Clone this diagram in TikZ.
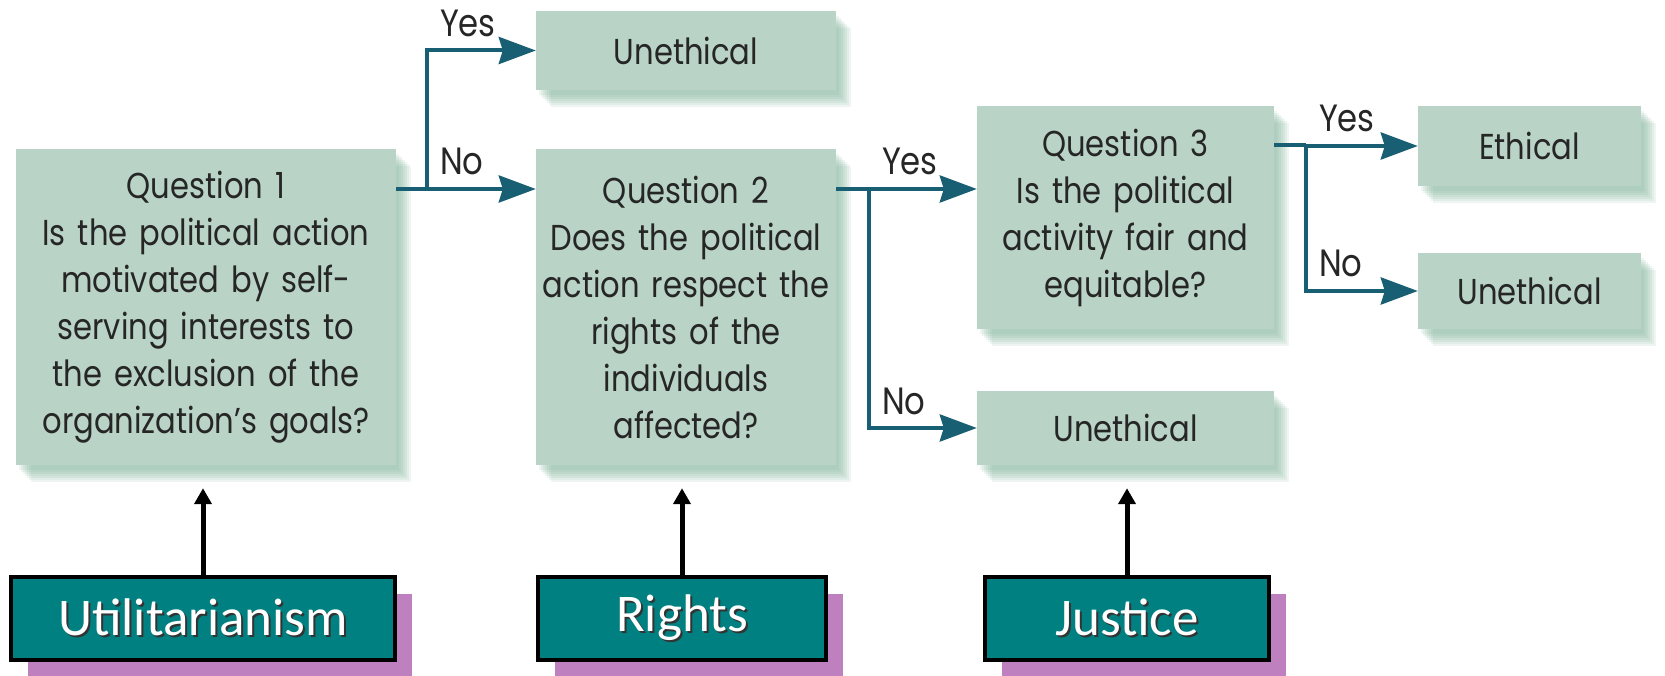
\documentclass[tikz,border=0pt]{standalone}
\usepackage{fontspec}
\usetikzlibrary{arrows.meta,shadows}

\newfontfamily\boxfont[FakeStretch=0.85]{Poppins}
\newfontfamily\tagfont{Carlito}

\definecolor{boxgreen}{RGB}{185,212,199}
\definecolor{shadegreen}{RGB}{110,168,140}
\definecolor{flowblue}{RGB}{24,95,115}
\definecolor{tagteal}{RGB}{0,128,128}
\definecolor{tagpurple}{RGB}{191,128,191}

\newcommand{\shadowtext}[1]{\rlap{\kern2pt\raisebox{-2pt}{\color{black!80}#1}}{\color{white}#1}}

\begin{document}
\begin{tikzpicture}[x=1pt,y=-1pt,
	soft/.style={drop shadow={shadow xshift=#1pt, shadow yshift=-#1pt-2pt, fill=shadegreen, opacity=.11}},
	qbox/.style={rectangle, fill=boxgreen, inner sep=0pt, align=center, text=black!85,
		text width=290pt, font=\boxfont\fontsize{36}{47}\selectfont,
		soft=15, soft=13, soft=11, soft=9, soft=7, soft=5, soft=3},
	tagbox/.style={rectangle, draw=black, line width=3.5pt, fill=tagteal, inner sep=0pt,
		minimum height=83pt, font=\tagfont\fontsize{53}{60}\selectfont,
		drop shadow={shadow xshift=17pt, shadow yshift=-17pt, fill=tagpurple, opacity=1}},
	flowline/.style={draw=flowblue, line width=4pt},
	flow/.style={flowline, -{Stealth[length=37pt,width=27pt,inset=4pt]}},
	lbl/.style={anchor=base west, inner sep=0pt, text=black!85, xshift=11pt, yshift=14pt,
		font=\boxfont\fontsize{38}{42}\selectfont},
	up/.style={draw=black, line width=5pt, -{Triangle[length=16pt,width=17pt]}}]

	\useasboundingbox (0,0) rectangle (1665,676);

	% question boxes
	\node 	(q1)	at	(206,307)	[qbox, text width=370pt, minimum width=380pt, minimum height=316pt]
		{Question 1\\Is the political action\\motivated by self-\\serving interests to\\the exclusion of the\\organization’s goals?};
	\node 	(q2)	at	(686,307)	[qbox, minimum width=300pt, minimum height=316pt]
		{Question 2\\Does the political\\action respect the\\rights of the\\individuals\\affected?};
	\node 	(q3)	at	(1125.5,217.5)	[qbox, minimum width=297pt, minimum height=223pt]
		{Question 3\\Is the political\\activity fair and\\equitable?};

	% outcomes
	\node 	(u1)	at	(686,50.5)	[qbox, minimum width=300pt, minimum height=79pt]{Unethical};
	\node 	(u2)	at	(1125.5,428)	[qbox, minimum width=297pt, minimum height=74pt]{Unethical};
	\node 	(eth)	at	(1529.5,146)	[qbox, text width=210pt, minimum width=223pt, minimum height=80pt]{Ethical};
	\node 	(u3)	at	(1529.5,291)	[qbox, text width=210pt, minimum width=223pt, minimum height=76pt]{Unethical};

	% branch points
	\coordinate (b1) at (427,189);
	\coordinate (b2) at (869,189);
	\coordinate (b3) at (1306,145);

	\draw[flowline]	(q1.east |- b1)	--	(b1);
	\draw[flow]	(b1)	|-	node[lbl] (y1) {Yes}	(u1);
	\draw[flow]	(b1)	--	node[lbl, pos=0] (n1) {No}	(q2.west |- b1);

	\draw[flowline]	(q2.east |- b2)	--	(b2);
	\draw[flow]	(b2)	--	node[lbl, pos=0] (y2) {Yes}	(q3.west |- b2);
	\draw[flow]	(b2)	|-	node[lbl] (n2) {No}	(u2);

	\draw[flowline]	(q3.east |- b3)	--	(b3);
	\draw[flow]	(b3)	|-	node[lbl] (y3) {Yes}	(eth);
	\draw[flow]	(b3)	|-	node[lbl] (n3) {No}	(u3);

	% theories
	\node 	(ut)	at	(203,618.5)	[tagbox, minimum width=384pt]{\shadowtext{Utilitarianism}};
	\node 	(ri)	at	(682,618.5)	[tagbox, minimum width=288pt]{\shadowtext{Rights}};
	\node 	(ju)	at	(1127,618.5)	[tagbox, minimum width=284pt]{\shadowtext{Justice}};

	\draw[up, shorten >=23pt]	(ut)	--	(ut |- q1.south);
	\draw[up, shorten >=23pt]	(ri)	--	(ri |- q2.south);
	\draw[up, shorten >=23pt]	(ju)	--	(ju |- u2.south);

\end{tikzpicture}
\end{document}
